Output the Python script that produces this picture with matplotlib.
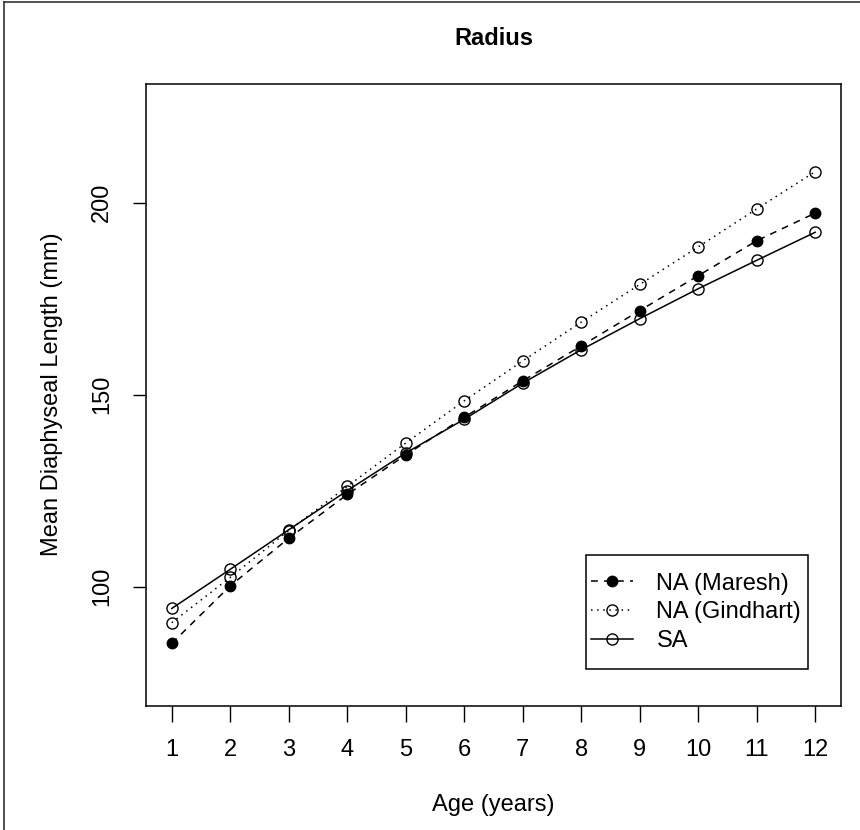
import matplotlib
matplotlib.use('Agg')
import matplotlib.pyplot as plt
from matplotlib.patches import Rectangle
from matplotlib.lines import Line2D

plt.rcParams['font.family'] = ['Liberation Sans', 'DejaVu Sans']

# values
age = list(range(1, 13))
maresh = [85.2, 100.2, 112.6, 124.0, 134.3, 144.1, 153.6, 162.7, 171.9, 181.0, 190.1, 197.3]
gindhart = [90.6, 102.4, 114.6, 126.1, 137.4, 148.4, 158.8, 168.9, 178.7, 188.5, 198.4, 208.1]
sa = [94.3, 104.5, 114.8, 125.0, 134.8, 143.6, 153.0, 161.7, 169.8, 177.6, 185.0, 192.3]
labels = ['NA (Maresh)', 'NA (Gindhart)', 'SA']
yticks = [100, 150, 200]

fs = 17
fig = plt.figure(figsize=(8.6, 8.3), dpi=100)
ax = fig.add_axes([146/860, 1 - 705.6/830, 695/860, 621.9/830])

lw = 1.1
ax.plot(age, maresh, color='black', lw=lw, ls=(0, (4.5, 4)), marker='o', ms=7.5,
        mfc='black', mec='black', mew=1.0, label=labels[0])
ax.plot(age, gindhart, color='black', lw=lw, ls=(0, (1, 3)), marker='o', ms=8,
        mfc='none', mec='black', mew=1.0, label=labels[1])
ax.plot(age, sa, color='black', lw=lw, ls='-', marker='o', ms=8,
        mfc='none', mec='black', mew=1.0, label=labels[2])

ax.set_xlim(0.56, 12.44)
ax.set_ylim(69, 231)
ax.set_xticks(age)
ax.set_yticks(yticks)
ax.tick_params(axis='x', length=11.5, width=1.0, pad=12.5, labelsize=fs)
ax.tick_params(axis='y', length=9.4, width=1.0, pad=14.5, labelsize=fs)
for t in ax.get_yticklabels():
    t.set_rotation(90)
    t.set_va('center')
for s in ax.spines.values():
    s.set_linewidth(1.1)

ax.set_title('Radius', fontsize=fs, fontweight='bold', pad=28)
ax.set_xlabel('Age (years)', fontsize=fs, labelpad=24)
ax.set_ylabel('Mean Diaphyseal Length (mm)', fontsize=fs, labelpad=20)

leg = ax.legend(loc='center left', bbox_to_anchor=(0.641, 0.150), frameon=False,
                fontsize=fs, borderpad=0, borderaxespad=0, handlelength=1.75,
                handletextpad=1.0, labelspacing=0.28)
ax.add_patch(Rectangle((0.6327, 0.0589), 0.3203, 0.1833, transform=ax.transAxes,
                       fill=False, ec='black', lw=1.1, zorder=5))

# outer frame lines of the reference image (top and left)
fig.add_artist(Line2D([0.005, 0.005], [0, 0.997], transform=fig.transFigure,
                      color='#333333', lw=1.2))
fig.add_artist(Line2D([0.005, 1], [0.997, 0.997], transform=fig.transFigure,
                      color='#333333', lw=1.2))

fig.savefig('out.png', dpi=100)
